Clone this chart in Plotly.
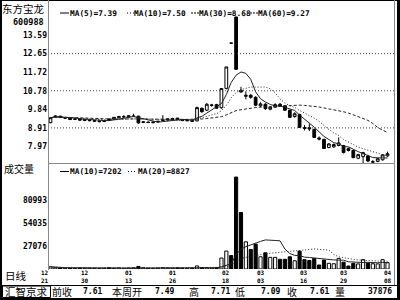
import pandas as pd
import plotly.graph_objects as go

# ---------------- data ----------------
opens = [9.17, 9.45, 9.50, 9.40, 9.40, 9.34, 9.36, 9.28, 9.27, 9.24,
         9.22, 9.23, 9.36, 9.36, 9.42, 9.46, 9.45, 9.49, 9.50, 9.18,
         9.20, 9.17, 9.21, 9.28, 9.30, 9.33, 9.40, 9.32, 9.27, 9.28,
         9.26, 9.90, 9.80, 10.04, 10.08, 9.92, 10.90, 13.18, 14.50, 10.80,
         10.50, 10.55, 10.45, 10.02, 10.10, 9.85, 9.95, 10.10, 10.02, 9.80,
         9.48, 9.58, 8.93, 8.92, 8.83, 8.40, 8.33, 7.92, 7.95, 8.02,
         8.02, 7.86, 7.77, 7.38, 7.46, 7.49, 7.18, 7.22, 7.30, 7.50]
highs = [9.45, 9.55, 9.52, 9.47, 9.42, 9.40, 9.38, 9.34, 9.32, 9.29,
         9.27, 9.30, 9.38, 9.46, 9.52, 9.55, 9.55, 9.62, 9.52, 9.24,
         9.23, 9.22, 9.26, 9.55, 9.38, 9.42, 9.42, 9.34, 9.31, 9.30,
         9.98, 9.93, 10.16, 10.12, 10.12, 10.89, 11.98, 13.18, 14.50, 10.98,
         10.75, 10.62, 10.50, 10.20, 10.15, 10.00, 10.15, 10.17, 10.05, 9.82,
         9.70, 9.62, 9.05, 9.13, 8.88, 8.48, 8.36, 8.15, 8.12, 8.43,
         8.05, 7.92, 7.80, 7.60, 7.70, 7.55, 7.28, 7.40, 7.58, 7.71]
lows = [9.14, 9.42, 9.41, 9.35, 9.30, 9.30, 9.27, 9.25, 9.24, 9.22,
        9.19, 9.20, 9.28, 9.33, 9.40, 9.42, 9.43, 9.46, 9.12, 9.15,
        9.15, 9.14, 9.18, 9.26, 9.28, 9.30, 9.32, 9.26, 9.24, 9.22,
        9.24, 9.68, 9.76, 9.98, 9.88, 9.88, 10.85, 13.18, 11.86, 10.68,
        10.35, 10.38, 10.00, 9.95, 9.82, 9.80, 9.92, 9.96, 9.76, 9.40,
        9.42, 8.90, 8.78, 8.75, 8.40, 8.28, 7.85, 7.88, 7.90, 7.98,
        7.62, 7.72, 7.38, 7.33, 7.09, 7.18, 7.14, 7.18, 7.26, 7.45]
closes = [9.42, 9.50, 9.44, 9.41, 9.33, 9.35, 9.30, 9.32, 9.29, 9.27,
          9.25, 9.27, 9.30, 9.44, 9.48, 9.47, 9.52, 9.50, 9.16, 9.21,
          9.18, 9.20, 9.24, 9.30, 9.36, 9.38, 9.34, 9.28, 9.28, 9.24,
          9.93, 9.72, 10.10, 10.06, 9.90, 10.89, 11.98, 13.18, 11.86, 10.72,
          10.55, 10.45, 10.05, 10.12, 9.88, 9.95, 10.08, 10.00, 9.80, 9.44,
          9.62, 8.93, 8.88, 8.86, 8.43, 8.35, 7.87, 8.10, 8.07, 8.15,
          7.67, 7.77, 7.41, 7.56, 7.66, 7.24, 7.20, 7.35, 7.55, 7.61]
volumes = [2600, 1500, 1300, 900, 1100, 800, 1200, 900, 1000, 800,
           700, 900, 1500, 1100, 1300, 900, 1200, 1400, 3000, 1400,
           900, 800, 1000, 1500, 1200, 1000, 1300, 900, 800, 1000,
           3600, 1800, 1500, 1100, 1600, 12900, 21100, 15800, 108200, 66500,
           32000, 23000, 29300, 14400, 19100, 13700, 13700, 11400, 11400, 14400,
           9700, 21000, 11000, 10000, 12500, 4700, 10500, 6700, 6200, 12500,
           8000, 3500, 6700, 6000, 11000, 7000, 6200, 6000, 11000, 7500]

price_ticks = [13.59, 12.65, 11.72, 10.78, 9.84, 8.91, 7.97]
grid_levels = [12.65, 10.78, 8.91]
vol_ticks = [80993, 54035, 27076]
date_idx = [0, 7, 16, 25, 36, 43, 52, 60, 69]
date_month = ['12', '12', '01', '01', '02', '03', '03', '03', '04']
date_day = ['21', '30', '13', '26', '18', '03', '16', '29', '08']
ma_texts = ['MA(5)=7.39', 'MA(10)=7.50', 'MA(30)=8.68', 'MA(60)=9.27']
vol_ma_texts = ['MA(10)=7202', 'MA(20)=8827']
stock_name = '东方宝龙'
stock_code = '600988'
panel_vol_title = '成交量'
period_label = '日线'
footer_name = '汇智京求'
footer_labels = ['前收', '本周开', '高', '低', '收', '量']
footer_values = ['7.61', '7.49', '7.71', '7.09', '7.61', '37876']

# ---------------- geometry (pixels) ----------------
W, H = 400, 300
def fx(x): return x / W
def fy(y): return 1 - y / H

PLOT_L, PLOT_R = 48, 393
PRICE_T, PRICE_B = 2, 163
VOL_T, VOL_B = 163, 269
FIRST_X, STEP = 50.5, 4.884
x_lo = -(FIRST_X - PLOT_L) / STEP
x_hi = x_lo + (PLOT_R - PLOT_L) / STEP
PX_PER_PRICE = 1 / 0.0504
TOP_LABEL_Y = 35
p_top = price_ticks[0] + (TOP_LABEL_Y - PRICE_T) / PX_PER_PRICE
p_bot = price_ticks[0] - (PRICE_B - TOP_LABEL_Y) / PX_PER_PRICE
VOL_PER_PX = 1177
v_top = (VOL_B - VOL_T) * VOL_PER_PX

n = len(closes)
idx = list(range(n))
cs = pd.Series(closes)
ma5 = cs.rolling(5, min_periods=1).mean()
ma10 = cs.rolling(10, min_periods=1).mean()
ma30 = cs.rolling(30, min_periods=1).mean()
vs = pd.Series(volumes)
vma10 = vs.rolling(10, min_periods=1).mean()
vma20 = vs.rolling(20, min_periods=1).mean()
vol_colors = ['white' if c > o else 'black' for o, c in zip(opens, closes)]

MONO = 'DejaVu Sans Mono'
CJK = 'Noto Sans CJK SC'
LINE_C = '#222222'
DOT = '1px,2px'
DASH = '3px,2px'
SHORT_DASH = '2px,1px'

fig = go.Figure()
fig.add_trace(go.Candlestick(
    x=idx, open=opens, high=highs, low=lows, close=closes,
    increasing=dict(line=dict(color='black', width=1), fillcolor='white'),
    decreasing=dict(line=dict(color='black', width=1), fillcolor='black'),
    whiskerwidth=0, xaxis='x', yaxis='y', hoverinfo='skip'))
fig.add_trace(go.Scatter(x=idx, y=ma5, mode='lines', line=dict(color=LINE_C, width=1),
                         xaxis='x', yaxis='y', hoverinfo='skip'))
fig.add_trace(go.Scatter(x=idx, y=ma10, mode='lines', line=dict(color=LINE_C, width=1, dash=DOT),
                         xaxis='x', yaxis='y', hoverinfo='skip'))
fig.add_trace(go.Scatter(x=idx, y=ma30, mode='lines', line=dict(color=LINE_C, width=1, dash=DASH),
                         xaxis='x', yaxis='y', hoverinfo='skip'))
fig.add_trace(go.Bar(x=idx, y=volumes, marker=dict(color=vol_colors, line=dict(color='black', width=1)),
                     xaxis='x2', yaxis='y2', hoverinfo='skip'))
fig.add_trace(go.Scatter(x=idx, y=vma10, mode='lines', line=dict(color=LINE_C, width=1),
                         xaxis='x2', yaxis='y2', hoverinfo='skip'))
fig.add_trace(go.Scatter(x=idx, y=vma20, mode='lines', line=dict(color=LINE_C, width=1, dash=DOT),
                         xaxis='x2', yaxis='y2', hoverinfo='skip'))

tick_font = dict(family=MONO, size=8, color='black', weight='bold')
hidden_x = dict(range=[x_lo, x_hi], domain=[fx(PLOT_L), fx(PLOT_R)], showgrid=False,
                zeroline=False, showticklabels=False, showline=False, ticks='')

shapes = []
def line(x0, y0, x1, y1, color='black', width=1, dash=None):
    d = dict(type='line', xref='paper', yref='paper', x0=fx(x0), y0=fy(y0), x1=fx(x1), y1=fy(y1),
             line=dict(color=color, width=width))
    if dash:
        d['line']['dash'] = dash
    shapes.append(d)

for g in grid_levels:
    shapes.append(dict(type='line', xref='paper', yref='y', x0=fx(PLOT_L), x1=fx(PLOT_R + 1), y0=g, y1=g,
                       line=dict(color='#444444', width=1, dash=DOT)))
line(1, 0, 1, 300, width=2)
line(0, 0.5, 400, 0.5)
line(398.5, 0, 398.5, 300, width=3)
line(394.5, 0, 394.5, 285, color='#888888')
line(0, 299, 400, 299, width=2)
line(0, 285.5, 400, 285.5)
line(48.5, 0, 48.5, 270, color='#888888')
line(48, 163.5, 394, 163.5, color='#888888')
shapes.append(dict(type='rect', xref='paper', yref='paper', x0=fx(2.5), x1=fx(50.5), y0=fy(286), y1=fy(297.5),
                   line=dict(color='black', width=1)))

ann = []
def text(x, y, s, font, size, xanchor='center', weight='normal', xref='paper', xshift=0):
    ann.append(dict(x=x if xref != 'paper' else fx(x), y=fy(y), xref=xref, yref='paper', text=s,
                    showarrow=False, xanchor=xanchor, yanchor='middle', xshift=xshift,
                    font=dict(family=font, size=size, color='black', weight=weight)))

text(23.5, 8.5, stock_name, CJK, 10.5)
text(46, 22, stock_code, MONO, 8.5, xanchor='right', weight='bold')
text(2, 168, panel_vol_title, CJK, 10, xanchor='left')
text(16, 275, period_label, CJK, 10.5)

# price MA legend: line sample + text
leg_styles = [None, DOT, SHORT_DASH, SHORT_DASH]
leg_sample = [(60, 69), (127, 134), (191, 199), (250, 258)]
leg_text_x = [68, 132, 197, 256]
for st, (a, b), t, x in zip(leg_styles, leg_sample, ma_texts, leg_text_x):
    line(a, 13, b, 13, color='black', width=1, dash=st)
    text(x, 13, t, MONO, 7.8, xanchor='left', weight='bold')
# volume MA legend
vleg_styles = [None, DOT]
vleg_sample = [(60, 69), (128, 136)]
vleg_text_x = [68, 136]
for st, (a, b), t, x in zip(vleg_styles, vleg_sample, vol_ma_texts, vleg_text_x):
    line(a, 171.5, b, 171.5, color='black', width=1, dash=st)
    text(x, 171.5, t, MONO, 7.8, xanchor='left', weight='bold')

for k, (i, m, d) in enumerate(zip(date_idx, date_month, date_day)):
    sh = -5.5 if k == 0 else 0
    text(i, 276, m + '<br>' + d, MONO, 6, xref='x2', weight='bold', xshift=sh)

text(26.5, 291.5, footer_name, CJK, 10.5)
lab_x = [62, 127, 194, 240, 292, 340]
val_x = [92, 164, 220, 270, 319, 379.5]
for l, v, lx, vx in zip(footer_labels, footer_values, lab_x, val_x):
    text(lx, 291.5, l, CJK, 10)
    text(vx, 291.5, v, MONO, 8, weight='bold')

fig.update_layout(
    width=W, height=H, margin=dict(l=0, r=0, t=0, b=0),
    paper_bgcolor='white', plot_bgcolor='white', showlegend=False,
    bargap=0.35, boxgap=0.25, boxgroupgap=0.25,
    xaxis=dict(hidden_x, anchor='y', rangeslider=dict(visible=False)),
    xaxis2=dict(hidden_x, anchor='y2'),
    yaxis=dict(domain=[fy(PRICE_B), fy(PRICE_T)], range=[p_bot, p_top], tickvals=price_ticks,
               ticktext=[f'{v:.2f}' for v in price_ticks], tickfont=tick_font, ticks='',
               showgrid=False, zeroline=False, showline=False),
    yaxis2=dict(domain=[fy(VOL_B), fy(VOL_T)], range=[0, v_top], tickvals=vol_ticks,
                ticktext=[str(v) for v in vol_ticks], tickfont=tick_font, ticks='',
                showgrid=False, zeroline=False, showline=False),
    shapes=shapes, annotations=ann,
)

fig.write_html('out.html', config={'displayModeBar': False})
